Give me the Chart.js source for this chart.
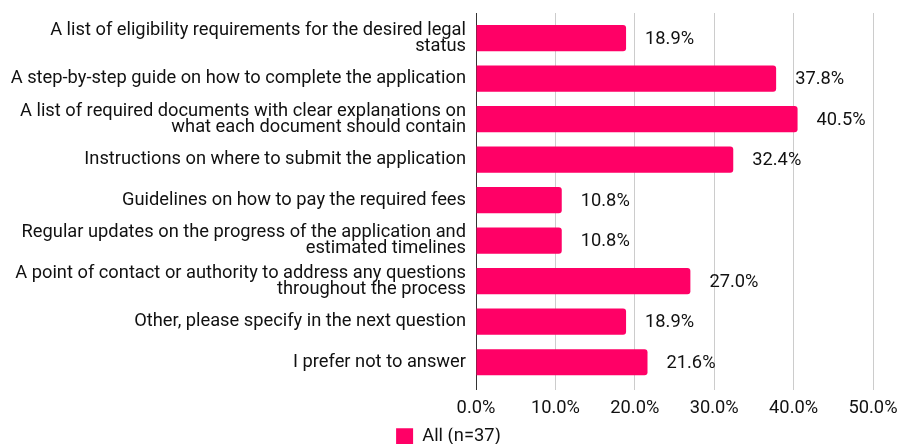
<!doctype html>
<html lang="en">
  <head>
    <meta charset="utf-8">
    <title>Legal status support</title>
    <style>
      * { margin: 0; padding: 0; }
      body { background: white; overflow: hidden; }
      .chartBox { width: 897px; height: 444px; overflow: hidden; }
    </style>
  </head>
  <body>
    <div class="chartBox">
      <canvas id="myChart" width="897" height="456"></canvas>
    </div>
    <script src="https://cdn.jsdelivr.net/npm/chart.js/dist/chart.umd.min.js"></script>
    <script>
    // categories (multi-line labels as arrays)
    const categories = [
      ['A list of eligibility requirements for the desired legal', 'status'],
      'A step-by-step guide on how to complete the application',
      ['A list of required documents with clear explanations on', 'what each document should contain'],
      'Instructions on where to submit the application',
      'Guidelines on how to pay the required fees',
      ['Regular updates on the progress of the application and', 'estimated timelines'],
      ['A point of contact or authority to address any questions', 'throughout the process'],
      'Other, please specify in the next question',
      'I prefer not to answer'
    ];
    const allValues = [18.9, 37.8, 40.5, 32.4, 10.8, 10.8, 27.0, 18.9, 21.6];
    const seriesName = 'All (n=37)';
    const xTicks = [0, 10, 20, 30, 40, 50];

    const pink = 'rgb(255, 0, 102)';
    const fontFamily = 'Roboto, sans-serif';
    const textColor = '#111';
    const fontSize = 18.3;

    // draw value labels right of each bar
    const valueLabels = {
      id: 'valueLabels',
      afterDatasetsDraw(chart) {
        const ctx = chart.ctx;
        const meta = chart.getDatasetMeta(0);
        ctx.save();
        ctx.font = fontSize + 'px ' + fontFamily;
        ctx.fillStyle = textColor;
        ctx.textAlign = 'left';
        ctx.textBaseline = 'middle';
        meta.data.forEach((bar, i) => {
          ctx.fillText(allValues[i].toFixed(1) + '%', bar.x + 19, bar.y + 1);
        });
        ctx.restore();
      }
    };

    const data = {
      labels: categories,
      datasets: [{
        label: seriesName,
        data: allValues,
        backgroundColor: pink,
        borderRadius: 3,
        borderSkipped: 'start',
        barPercentage: 0.645,
        categoryPercentage: 1.0
      }]
    };

    const config = {
      type: 'bar',
      data,
      options: {
        indexAxis: 'y',
        responsive: false,
        animation: false,
        layout: { padding: { top: 13, right: 0, left: 0, bottom: 0 } },
        scales: {
          x: {
            min: 0,
            max: 50,
            afterBuildTicks(scale) {
              scale.ticks = xTicks.map(v => ({ value: v }));
            },
            afterFit(scale) { scale.paddingRight = 24; },
            ticks: {
              callback: v => v.toFixed(1) + '%',
              color: textColor,
              font: { family: fontFamily, size: fontSize },
              padding: 8
            },
            grid: { color: '#cccccc', drawTicks: false, lineWidth: 1 },
            border: { display: false }
          },
          y: {
            // a bit of extra room above the first and below the last bar
            afterBuildTicks(scale) {
              scale._startValue -= 0.12;
              scale._valueRange += 0.30;
            },
            afterFit(scale) {
              scale.width = 476;
              scale.paddingTop = 0;
              scale.paddingBottom = 0;
            },
            ticks: {
              color: textColor,
              font: { family: fontFamily, size: fontSize, lineHeight: 0.86 },
              padding: 10
            },
            grid: { display: false, drawTicks: false },
            border: { display: true, color: '#333', width: 1 }
          }
        },
        plugins: {
          legend: {
            position: 'bottom',
            labels: {
              boxWidth: 17,
              boxHeight: 17,
              color: textColor,
              font: { family: fontFamily, size: fontSize },
              padding: 0
            }
          },
          tooltip: { enabled: false }
        }
      },
      plugins: [valueLabels]
    };

    const myChart = new Chart(document.getElementById('myChart'), config);
    </script>
  </body>
</html>
